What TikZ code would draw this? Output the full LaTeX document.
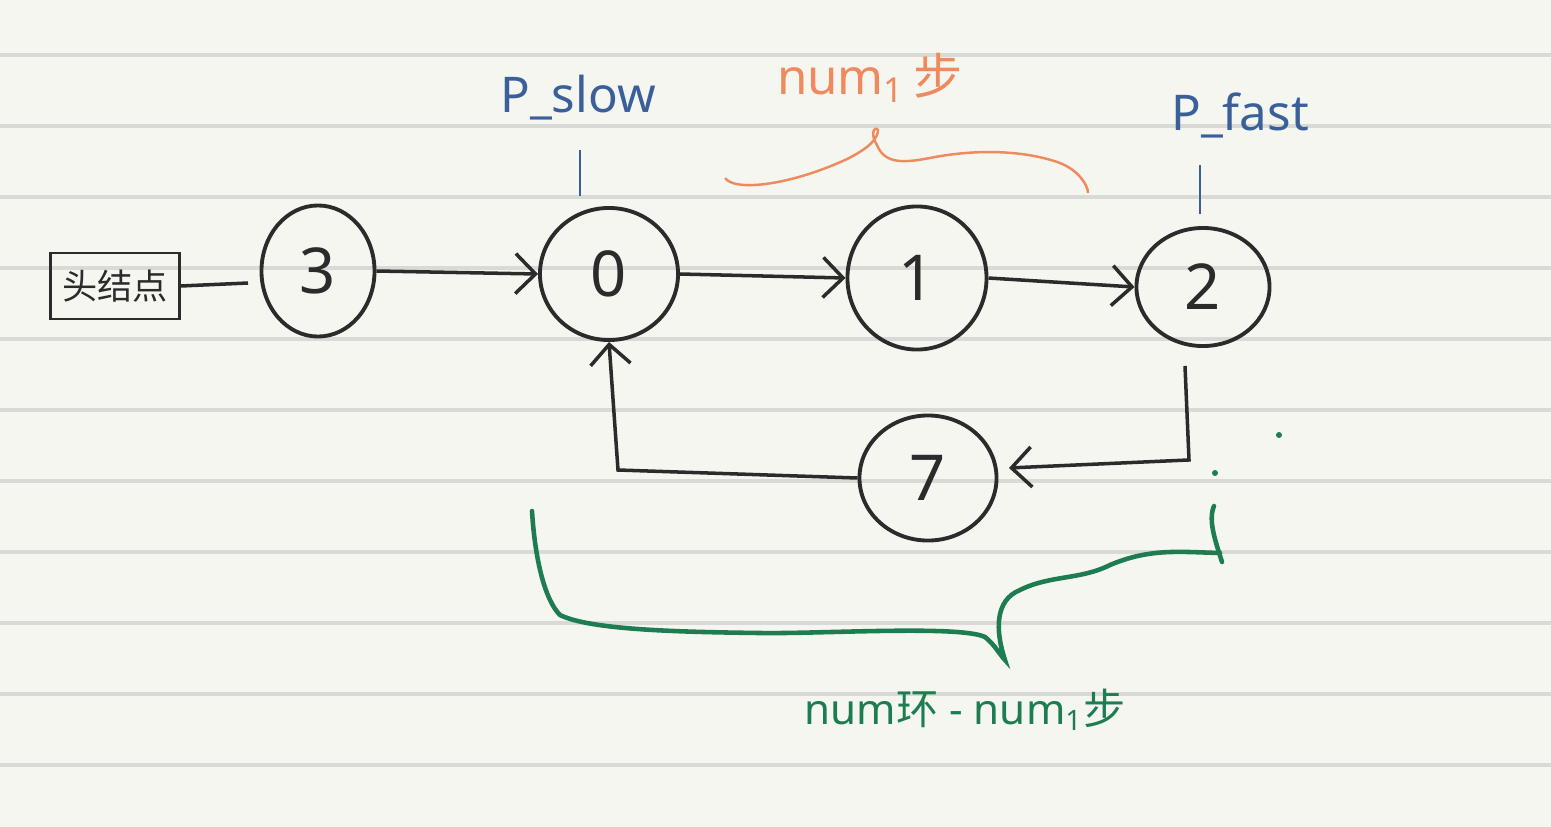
\documentclass[tikz,border=0pt]{standalone}
\usepackage{fontspec}
\setmainfont{Noto Sans}
\newfontfamily\cjk{Noto Sans CJK SC}
\usetikzlibrary{shapes.geometric,arrows.meta}
\definecolor{paper}{HTML}{F6F6F1}
\definecolor{rule}{HTML}{D9D9D5}
\definecolor{ink}{HTML}{2B2B2B}
\definecolor{penblue}{HTML}{3A5F99}
\definecolor{penorange}{HTML}{EF8A5E}
\definecolor{pengreen}{HTML}{1E7D50}
\tikzset{
  listnode/.style={draw=ink, ellipse, line width=1.1pt, inner sep=0pt,
    font=\fontsize{18}{22}\selectfont, text=ink},
  link/.style={draw=ink, line width=1pt, -{Straight Barb[length=2mm,width=4mm]}},
  pointer/.style={draw=penblue, line width=0.7pt},
  ptrlabel/.style={text=penblue, font=\fontsize{14}{16}\selectfont},
}
\begin{document}
\begin{tikzpicture}[x=0.01cm, y=-0.01cm]
	\useasboundingbox (0,0) rectangle (1551,827);
	\fill[paper] (0,0) rectangle (1551,827);
	% ruled lines of the notebook page
	\foreach \ry in {55,126,197,268,339,410,481,552,623,694,765}
		\draw[rule, line width=0.9pt] (0,\ry) -- (1551,\ry);

	% head node and list
	\node[draw=ink, line width=0.6pt, minimum width=1.15cm, minimum height=0.66cm,
		font=\cjk\fontsize{10}{12}\selectfont, text=ink] (head) at (115,286) {头结点};
	\coordinate (headend) at (248,283);
	\node[listnode, minimum width=1.13cm, minimum height=1.31cm] (n3) at (318,271) {3};
	\node[listnode, minimum width=1.38cm, minimum height=1.32cm] (n0) at (609,274) {0};
	\node[listnode, minimum width=1.39cm, minimum height=1.43cm] (n1) at (917,278) {1};
	\node[listnode, minimum width=1.33cm, minimum height=1.18cm] (n2) at (1203,287) {2};
	\node[listnode, minimum width=1.37cm, minimum height=1.25cm] (n7) at (928,478) {7};

	\draw[ink, line width=1pt] (head.east) -- (headend);
	\draw[link] (n3.east) -- (n0.west);
	\draw[link] (n0.east) -- (n1.west);
	\draw[link] (n1.east) -- (n2.west);
	\draw[link] (n2.south) ++(-18,18) -- ++(4,94) -- ++(-180,8);
	\draw[link] (n7.west) -- (618,470) -- (n0.south);

	% pointers
	\node[ptrlabel] (slow) at (578,98) {P\_slow};
	\node[ptrlabel] (fast) at (1240,115) {P\_fast};
	\draw[pointer] (580,150) -- (580,196);
	\draw[pointer] (1200,165) -- (1200,214);

	% orange brace over 0 -> 2
	\node[text=penorange, font=\fontsize{14}{16}\selectfont] (numone) at (870,78)
		{num\textsubscript{1}\,{\cjk 步}};
	\draw[penorange, line width=0.7pt] (725,178) .. controls (735,192) and (790,185) .. (845,160)
		.. controls (870,148) and (878,138) .. (878,130)
		.. controls (874,125) and (870,135) .. (877,145)
		.. controls (885,165) and (905,163) .. (935,157)
		.. controls (985,148) and (1030,152) .. (1060,163)
		.. controls (1078,170) and (1088,185) .. (1088,193);

	% green brace under the loop
	\node[text=pengreen, font=\fontsize{12}{14}\selectfont] (numring) at (965,710)
		{num{\cjk 环} - num\textsubscript{1}{\cjk 步}};
	\draw[pengreen, line width=1.3pt, line cap=round] (532,511) .. controls (535,560) and (545,600) .. (560,615)
		.. controls (590,630) and (680,632) .. (760,633)
		.. controls (820,634) and (960,625) .. (985,637)
		.. controls (995,645) and (1000,655) .. (1005,660)
		.. controls (995,630) and (995,600) .. (1020,590)
		.. controls (1050,575) and (1080,580) .. (1110,565)
		.. controls (1150,548) and (1180,552) .. (1220,553);
	\draw[pengreen, line width=1.3pt, line cap=round] (1222,562) .. controls (1215,540) and (1208,520) .. (1214,506);
	\fill[pengreen] (1279,435) circle (3);
	\fill[pengreen] (1215,473) circle (3);
\end{tikzpicture}
\end{document}
